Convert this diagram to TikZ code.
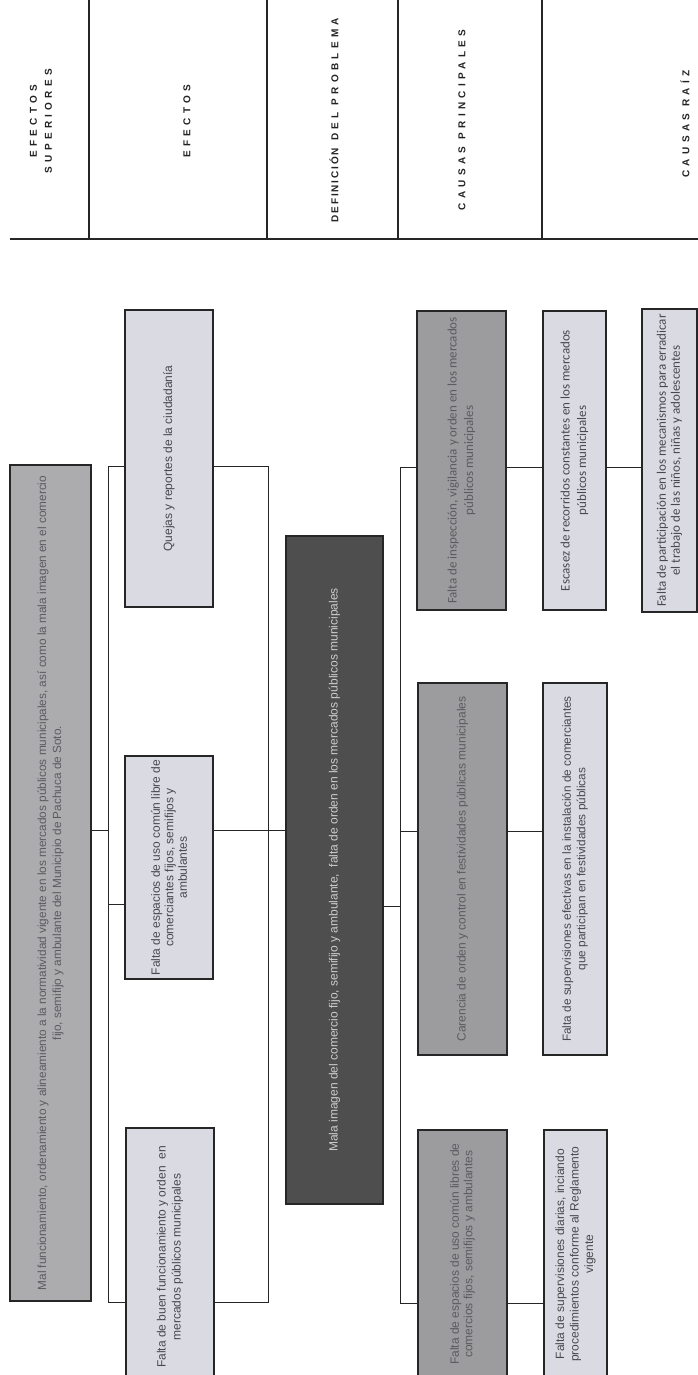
\documentclass[tikz,border=0pt]{standalone}
\usepackage{fontspec}
\setmainfont{Liberation Sans}
\newfontfamily\calib{Carlito}
\usetikzlibrary{fit,backgrounds}
\definecolor{boxlight}{RGB}{218,218,226}
\definecolor{boxmal}{RGB}{172,172,175}
\definecolor{boxmid}{RGB}{156,156,159}
\definecolor{boxdark}{RGB}{78,78,78}
\definecolor{txtlight}{RGB}{72,72,78}
\definecolor{txtmid}{RGB}{92,92,96}
\definecolor{txtdark}{RGB}{205,205,205}
\definecolor{hdrtxt}{RGB}{35,35,35}
\begin{document}
\begin{tikzpicture}[x=1pt,y=-1pt,
  bx/.style={draw=black!85, line width=1.1pt, inner sep=0pt},
  lightbox/.style={bx, fill=boxlight},
  malbox/.style={bx, fill=boxmal},
  midbox/.style={bx, fill=boxmid},
  darkbox/.style={bx, fill=boxdark},
  lbl/.style={rotate=90, align=center, inner sep=0pt,
    font=\fontsize{12}{13.5}\selectfont},
  lbllight/.style={lbl, text=txtlight},
  lblmid/.style={lbl, text=txtmid},
  lbldark/.style={lbl, text=txtdark},
  lblcal/.style={lbl, font=\calib\fontsize{13}{16.5}\selectfont},
  hdr/.style={rotate=90, align=center, inner sep=0pt, text=hdrtxt,
    font=\fontsize{10}{15}\selectfont\bfseries\addfontfeature{LetterSpace=43}},
  conn/.style={draw=black!85, line width=0.9pt},
  rule/.style={draw=black!85, line width=1.2pt}]
\useasboundingbox (0,0) rectangle (698,1375);

% ---------- header ----------
\draw[rule] (89,0) -- (89,239);
\draw[rule] (267,0) -- (267,239);
\draw[rule] (398,0) -- (398,239);
\draw[rule] (542,0) -- (542,239);
\draw[rule] (10,239) -- (698,239);
\node[hdr] (h1) at (41,121) {EFECTOS\\SUPERIORES};
\node[hdr] (h2) at (187,121) {EFECTOS};
\node[hdr] (h3) at (334,120) {{\addfontfeature{LetterSpace=18}DEFINICIÓN} DEL PROBLEMA};
\node[hdr] (h4) at (462,120) {CAUSAS PRINCIPALES};
\node[hdr] (h5) at (685,124) {CAUSAS RAÍZ};

% ---------- boxes ----------
\node[malbox, fit={(10,465) (91,1301)}] (mal) {};
\node[lblmid, font=\fontsize{11.8}{15}\selectfont] at (mal.center) {Mal funcionamiento, ordenamiento y alineamiento a la normatividad vigente en los mercados públicos municipales, así como la mala imagen en el comercio\\fijo, semifijo y ambulante del Municipio de Pachuca de Soto.};

\node[lightbox, fit={(125,310) (213,607)}] (quejas) {};
\node[lbllight] at (quejas.center) {Quejas y reportes de la ciudadanía};

\node[lightbox, fit={(125,756) (213,979)}] (eff2) {};
\node[lbllight] at (eff2.center) {Falta de espacios de uso común libre de\\comerciantes fijos, semifijos y\\ambulantes};

\node[lightbox, fit={(126,1128) (214,1386)}] (eff3) {};
\node[lbllight, font=\fontsize{12}{15}\selectfont] at (eff3.center) {Falta de buen funcionamiento y orden \ en\\mercados públicos municipales};

\node[darkbox, fit={(286,536) (383,1204)}] (prob) {};
\node[lbldark] at (prob.center) {Mala imagen del comercio fijo, semifijo y ambulante, \ falta de orden en los mercados públicos municipales};

\node[midbox, fit={(417,311) (506,610)}] (cau1) {};
\node[lblcal, text=txtmid] at (cau1.center) {Falta de inspección, vigilancia y orden en los mercados\\públicos municipales};

\node[lightbox, fit={(543,311) (606,610)}] (raiz1) {};
\node[lblcal, text=txtlight] at (raiz1.center) {Escasez de recorridos constantes en los mercados\\públicos municipales};

\node[lightbox, fit={(642,309) (697,612)}] (raiz2) {};
\node[lblcal, text=txtlight, font=\calib\fontsize{13}{14}\selectfont] at (raiz2.center) {Falta de participación en los mecanismos para erradicar\\el trabajo de las niños, niñas y adolescentes};

\node[midbox, fit={(418,683) (507,1055)}] (cau2) {};
\node[lblmid] at (cau2.center) {Carencia de orden y control en festividades públicas municipales};

\node[lightbox, fit={(543,683) (607,1055)}] (raiz3) {};
\node[lbllight, font=\fontsize{11.8}{14.5}\selectfont] at (raiz3.center) {Falta de supervisiones efectivas en la instalación de comerciantes\\que participan en festividades públicas};

\node[midbox, fit={(418,1130) (507,1378)}] (cau3) {};
\node[lblmid] at (cau3.center) {Falta de espacios de uso común libres de\\comercios fijos, semifijos y ambulantes};

\node[lightbox, fit={(544,1130) (607,1378)}] (raiz4) {};
\node[lbllight, font=\fontsize{12}{14.5}\selectfont] at (raiz4.center) {Falta de supervisiones diarias, inciando\\procedimientos conforme al Reglamento\\vigente};

% ---------- connectors ----------
\coordinate (etl) at (108,466);
\coordinate (etr) at (268,466);
\coordinate (ebl) at (108,1302);
\coordinate (ebr) at (268,1302);
\coordinate (ya) at (0,830);
\coordinate (yb) at (0,904);
\coordinate (ct) at (400,467);
\coordinate (cb) at (400,1303);
\coordinate (yc) at (0,831);
\coordinate (yd) at (0,906);
\begin{scope}[on background layer]
\draw[conn] (etl) -- (etr) -- (ebr) -- (ebl) -- cycle;
\draw[conn] (mal.east |- ya) -- (etl |- ya);
\draw[conn] (etl |- yb) -- (eff2.west |- yb);
\draw[conn] (eff2.east |- ya) -- (prob.west |- ya);
\draw[conn] (prob.east |- yd) -- (ct |- yd);
\draw[conn] (ct) -- (cb);
\draw[conn] (ct) -- (cau1.west |- ct);
\draw[conn] (cau1.east |- ct) -- (raiz1.west |- ct);
\draw[conn] (raiz1.east |- ct) -- (raiz2.west |- ct);
\draw[conn] (ct |- yc) -- (cau2.west |- yc);
\draw[conn] (cau2.east |- yc) -- (raiz3.west |- yc);
\draw[conn] (cb) -- (cau3.west |- cb);
\draw[conn] (cau3.east |- cb) -- (raiz4.west |- cb);
\end{scope}
\end{tikzpicture}
\end{document}
